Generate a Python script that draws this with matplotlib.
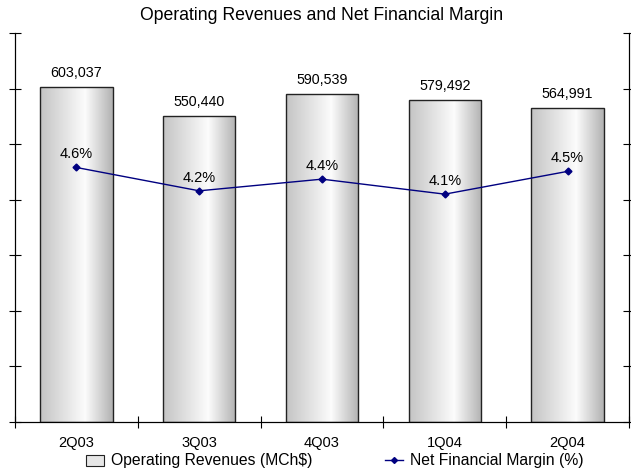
import matplotlib.pyplot as plt
import matplotlib.colors as mcolors
import matplotlib.patches as mpatches
from matplotlib.lines import Line2D
import numpy as np

plt.rcParams['font.family'] = ['Liberation Sans', 'DejaVu Sans']

quarters = ['2Q03', '3Q03', '4Q03', '1Q04', '2Q04']
revenues = [603037, 550440, 590539, 579492, 564991]
margin = [4.58, 4.16, 4.37, 4.10, 4.51]

fig = plt.figure(figsize=(6.31, 4.76), dpi=100)
ax = fig.add_axes([15 / 631, 54 / 476, 614 / 631, 389 / 476])
ax2 = ax.twinx()

x = np.arange(len(quarters))
width = 0.59

# gradient fill for the bars
grad = mcolors.LinearSegmentedColormap.from_list(
    'bar', [(0.0, '#c4c4c4'), (0.62, '#fcfcfc'), (1.0, '#b2b2b2')])
bars = ax.bar(x, revenues, width, facecolor='none', edgecolor='#222222',
              linewidth=1.0, zorder=3)
for b in bars:
    x0, y0 = b.get_x(), b.get_y()
    img = ax.imshow(np.linspace(0, 1, 256).reshape(1, -1), cmap=grad,
                    aspect='auto', extent=[x0, x0 + b.get_width(), y0, y0 + b.get_height()],
                    zorder=2, interpolation='bilinear')
    img.set_clip_path(b)

for xi, v in zip(x, revenues):
    ax.annotate(f'{v:,}', (xi, v), xytext=(0, 5), textcoords='offset points',
                ha='center', va='bottom', fontsize=10.3)

ax.set_xlim(-0.5, len(quarters) - 0.5)
ax.set_ylim(0, 700000)
ax.set_yticks(np.arange(0, 700001, 100000))
ax.set_yticklabels([])
ax.set_xticks(np.arange(-0.5, len(quarters), 1.0))
ax.set_xticklabels([])
ax.set_xticks(x, minor=True)
ax.set_xticklabels(quarters, minor=True, fontsize=10.5)
ax.tick_params(axis='x', which='minor', length=0, pad=10)
ax.tick_params(axis='x', which='major', direction='inout', length=9, width=0.8)
ax.tick_params(axis='y', direction='inout', length=9, width=0.8)

ax2.plot(x, margin, color='#000080', linewidth=1.0, marker='D', markersize=3.5,
         zorder=5)
for xi, m in zip(x, margin):
    ax2.annotate(f'{m:.1f}%', (xi, m), xytext=(0, 4.5), textcoords='offset points',
                 ha='center', va='bottom', fontsize=10.5)
ax2.set_ylim(0, 7)
ax2.set_yticks(np.arange(0, 7.01, 1))
ax2.set_yticklabels([])
ax2.tick_params(axis='y', direction='inout', length=9, width=0.8)

for a in (ax, ax2):
    a.spines['top'].set_visible(False)
    for s in ('left', 'right', 'bottom'):
        a.spines[s].set_linewidth(0.8)
ax.set_zorder(ax2.get_zorder() - 1)
ax2.patch.set_visible(False)

fig.text(322 / 631, 1 - 15 / 476, 'Operating Revenues and Net Financial Margin',
         ha='center', va='center', fontsize=12.7)

handles = [mpatches.Patch(facecolor='#e6e6e6', edgecolor='#222222', linewidth=0.8),
           Line2D([], [], color='#000080', linewidth=1.0, marker='D', markersize=3)]
fig.legend(handles, ['Operating Revenues (MCh$)', 'Net Financial Margin (%)'],
           loc='center left', bbox_to_anchor=(83 / 631, 1 - 461 / 476), ncol=2,
           frameon=False, fontsize=11.3, columnspacing=4.6, handlelength=1.15,
           handletextpad=0.45, borderpad=0.2, borderaxespad=0)

fig.savefig('out.png', dpi=100)
